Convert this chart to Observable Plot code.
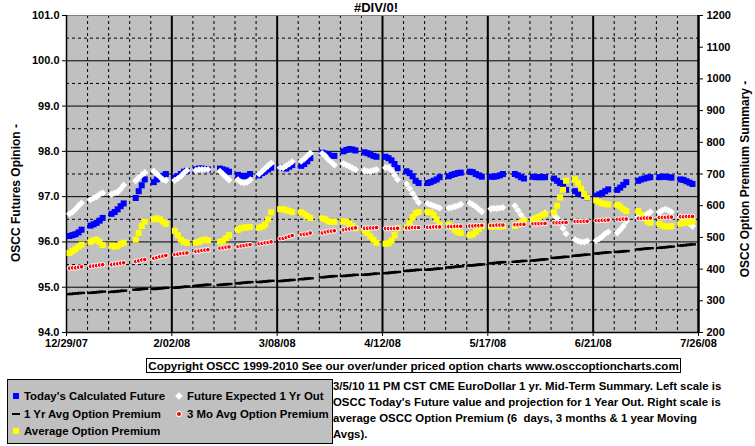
<!DOCTYPE html>
<html><head><meta charset="utf-8">
<script src="https://cdn.jsdelivr.net/npm/d3@7"></script>
<script src="https://cdn.jsdelivr.net/npm/@observablehq/plot@0.6"></script>
<style>
body{margin:0;background:#fff;font-family:"Liberation Sans",Arial,sans-serif;font-weight:bold;color:#000;}
#wrap{position:relative;width:755px;height:446px;overflow:hidden;}
#chart{position:absolute;left:0;top:0;}
.abs{position:absolute;white-space:nowrap;}
#title{left:376px;top:0px;transform:translateX(-50%);font-size:13px;}
.ytitle{font-size:12px;transform:translate(-50%,-50%) rotate(-90deg);}
#copy{left:146px;top:358px;width:533px;height:13px;border:1px solid #000;font-size:11.6px;line-height:13px;text-align:center;background:#fff;}
#legend{left:7px;top:379px;width:324px;height:63px;border:1px solid #000;background:#c0c0c0;font-size:11.4px;}
.li{position:absolute;white-space:nowrap;line-height:14px;}
.mk{position:absolute;}
#note{left:333px;top:378px;width:392px;font-size:11.4px;line-height:16px;white-space:normal;}
</style></head><body>
<div id="wrap">
  <div id="chart"></div>
  <div class="abs" id="title">#DIV/0!</div>
  <div class="abs ytitle" style="left:16px;top:193px;">OSCC Futures Opinion -</div>
  <div class="abs ytitle" style="left:745px;top:179px;">OSCC Option Premium Summary -</div>
  <div class="abs" id="copy">Copyright OSCC 1999-2010 See our over/under priced option charts www.osccoptioncharts.com</div>
  <div class="abs" id="legend"></div>
  <div class="abs" id="note">3/5/10 11 PM CST CME EuroDollar 1 yr. Mid-Term Summary. Left scale is OSCC Today's Future value and projection for 1 Year Out. Right scale is average OSCC Option Premium (6&nbsp; days, 3 months &amp; 1 year Moving Avgs).</div>
</div>
<script>
// ---- categories: Monday of each trading week (5 trading days each) ----
const weekMondays = ["2007-12-31","2008-01-07","2008-01-14","2008-01-21","2008-01-28","2008-02-04","2008-02-11","2008-02-18","2008-02-25","2008-03-03",
  "2008-03-10","2008-03-17","2008-03-24","2008-03-31","2008-04-07","2008-04-14","2008-04-21","2008-04-28","2008-05-05","2008-05-12",
  "2008-05-19","2008-05-26","2008-06-02","2008-06-09","2008-06-16","2008-06-23","2008-06-30","2008-07-07","2008-07-14","2008-07-21"];

// ---- Today's Calculated Future (left scale) ----
const todaysFuture = [
  96.13,96.15,96.17,96.21,96.27, 96.36,96.39,96.42,96.47,96.53, 96.62,96.66,96.72,96.79,96.85, null,96.97,97.12,97.25,97.38,
  97.32,97.38,97.42,97.46,97.50, 97.42,97.45,97.50,97.55,97.57, 97.60,97.62,97.62,97.61,97.60, null,97.62,97.60,97.58,97.55,
  97.48,97.46,97.45,97.46,97.50, 97.47,97.52,97.56,97.60,97.64, 97.64,97.63,97.62,97.66,97.70, 97.68,97.72,97.78,97.85,null,
  97.97,97.95,97.92,97.90,97.90, 98.00,98.03,98.05,98.04,98.02, 97.98,97.96,97.93,97.90,97.88, 97.88,97.85,97.80,97.72,97.63,
  97.56,97.52,97.45,97.35,97.30, 97.30,97.32,97.35,97.38,97.43, 97.45,97.48,97.50,97.52,97.53, 97.55,97.54,97.50,97.47,97.44,
  97.44,97.44,97.45,97.47,97.50, null,97.50,97.47,97.43,97.40, 97.44,97.43,97.43,97.43,97.43, 97.40,97.35,97.30,97.22,97.15,
  97.12,97.08,97.05,97.02,96.98, 97.02,97.05,97.08,97.12,97.16, 97.15,97.20,97.26,97.32,null, 97.35,97.38,97.40,97.42,97.43,
  97.43,97.44,97.44,97.43,97.42, 97.38,97.37,97.34,97.31,97.28];

// ---- Future Expected 1 Yr Out (left scale) ----
const futureExpected = [
  96.62,96.66,96.72,96.80,96.86, 96.93,96.97,97.00,97.05,97.08, 97.05,97.08,97.10,97.17,97.25, null,97.35,97.42,97.48,97.53,
  97.56,97.50,97.44,97.38,97.36, 97.36,97.40,97.45,97.52,97.58, 97.58,97.60,97.60,97.60,97.60, null,97.56,97.50,97.43,97.37,
  97.37,97.32,97.30,97.32,97.37, 97.50,97.56,97.62,97.68,97.74, 97.64,97.64,97.68,97.72,97.77, 97.78,97.83,97.90,97.96,null,
  97.95,97.90,97.82,97.76,97.70, 97.73,97.70,97.67,97.63,97.60, 97.58,97.56,97.56,97.58,97.60, 97.64,97.64,97.58,97.48,97.38,
  97.28,97.18,97.07,96.97,96.87, 96.85,96.82,96.80,96.77,96.75, 96.75,96.76,96.78,96.80,96.83, 96.86,96.82,96.78,96.72,96.67,
  96.73,96.74,96.74,96.75,96.76, null,96.80,96.70,96.60,96.50, 96.50,96.52,96.55,96.60,96.64, 96.60,96.53,96.42,96.30,96.18,
  96.05,96.02,96.00,96.00,96.02, 96.03,96.07,96.12,96.18,96.22, 96.20,96.27,96.35,96.45,null, 96.55,96.55,96.58,96.62,96.66,
  96.65,96.70,96.72,96.70,96.66, 96.55,96.50,96.45,96.40,96.35];

// ---- Average Option Premium (right scale) ----
const avgPremium = [
  451,457,463,471,477, 486,491,493,486,476, 474,471,473,479,483, null,493,514,536,550,
  557,560,557,550,543, 521,507,493,486,483, 483,486,491,493,491, null,486,489,497,507,
  524,529,531,531,533, 531,534,540,557,579, 589,589,586,583,580, 579,574,567,561,null,
  560,557,551,549,549, 551,549,543,536,529, 521,514,503,493,483, 480,481,490,507,529,
  531,546,564,576,580, 580,579,571,557,540, 540,533,524,517,514, 507,510,517,526,536,
  534,534,534,534,536, null,536,540,546,553, 554,560,564,569,574, 579,600,626,650,679,
  683,671,654,637,626, 617,611,607,606,604, 603,597,589,583,null, 583,571,560,550,546,
  543,537,534,534,536, 543,546,547,549,550];

// ---- 3 Mo Avg Option Premium (right scale) ----
const premium3Mo = [
  403,404,404,406,407, 409,410,411,413,414, 414,416,417,419,420, null,424,426,429,430,
  434,436,439,441,443, 446,447,449,450,451, 456,457,459,460,461, null,466,467,469,470,
  471,473,474,476,477, 480,481,483,484,486, 496,497,500,503,506, 509,510,511,514,null,
  514,517,519,520,521, 524,526,527,529,530, 529,529,530,530,531, 528,528,528,528,529,
  530,530,531,531,531, 532,532,533,533,533, 534,534,535,535,535, 536,536,537,537,538,
  538,538,539,539,539, null,540,540,541,541, 543,543,543,544,544, 546,546,546,547,547,
  550,550,550,551,551, 553,553,554,554,555, 557,557,558,558,null, 560,560,561,561,561,
  563,563,563,564,564, 565,565,566,566,566];

// ---- 1 Yr Avg Option Premium (right scale) ----
const premium1Yr = [
  321,322,323,324,325, 325,326,327,328,329, 328,329,330,331,332, null,335,336,337,338,
  337,338,339,340,341, 341,342,343,344,345, 347,348,349,350,351, null,350,351,352,353,
  355,356,357,358,359, 359,360,361,362,363, 362,363,364,365,366, 368,369,370,371,null,
  374,375,376,377,378, 378,379,380,381,382, 382,383,384,385,386, 387,388,389,390,391,
  394,395,396,397,398, 398,399,400,401,402, 405,406,407,408,409, 411,412,413,414,415,
  418,419,420,421,422, null,423,424,425,426, 427,428,429,430,431, 435,436,437,438,439,
  442,443,444,445,446, 449,450,451,452,453, 454,455,456,457,null, 462,463,464,465,466,
  467,468,469,470,471, 474,475,476,477,478];

// ---- axis ticks ----
const leftTicks = [94,95,96,97,98,99,100,101];
const rightTicks = [200,300,400,500,600,700,800,900,1000,1100,1200];
const xTickLabels = ["12/29/07","2/02/08","3/08/08","4/12/08","5/17/08","6/21/08","7/26/08"];

// ---- build table ----
const parse = d3.utcParse("%Y-%m-%d");
const parseLbl = d3.utcParse("%m/%d/%y");
const xTicks = xTickLabels.map(parseLbl);
const rows = [];
weekMondays.forEach((m, w) => {
  for (let k = 0; k < 5; k++) {
    const i = w * 5 + k;
    // the reference places each trading day one day left of its calendar date
    const date = d3.utcDay.offset(parse(m), k - 1);
    rows.push({date, blue: todaysFuture[i], white: futureExpected[i], yellow: avgPremium[i], red: premium3Mo[i], black: premium1Yr[i]});
  }
});
const toLeft = p => p == null ? null : 94 + (p - 200) * 7 / 1000;
const satLines = d3.utcSaturday.range(d3.utcDay.offset(xTicks[0], 1), xTicks[6]);
const majorX = xTicks.slice(1, -1).map(d => +d);
const minorX = satLines.filter(d => !majorX.includes(+d));

const dash = {draw(ctx) { ctx.moveTo(-3.5,-1.2); ctx.lineTo(3.5,-1.2); ctx.lineTo(3.5,1.2); ctx.lineTo(-3.5,1.2); ctx.closePath(); }};

const fmtX = d => xTickLabels[xTicks.findIndex(t => +t === +d)];

const chart = Plot.plot({
  width: 755, height: 352,
  marginLeft: 66, marginRight: 57, marginTop: 15, marginBottom: 20,
  style: {fontFamily: "Liberation Sans, Arial, sans-serif", fontSize: "11px", fontWeight: "bold", background: "transparent", overflow: "visible"},
  x: {type: "utc", domain: [xTicks[0], xTicks[6]], axis: null},
  y: {domain: [94, 101], axis: null},
  marks: [
    Plot.frame({fill: "#c0c0c0", stroke: null}),
    Plot.ruleY([94.5,95.5,96.5,97.5,98.5,99.5,100.5], {stroke: "#000", strokeDasharray: "3,3", strokeWidth: 1}),
    Plot.ruleY([95,96,97,98,99,100], {stroke: "#000", strokeWidth: 1}),
    Plot.ruleX(minorX, {stroke: "#000", strokeDasharray: "3,3", strokeWidth: 1}),
    Plot.ruleX(majorX, {stroke: "#000", strokeWidth: 2}),
    Plot.ruleY([101], {stroke: "#808080", strokeWidth: 1}),
    Plot.ruleX([xTicks[0]], {stroke: "#000", strokeWidth: 1.5}),
    Plot.ruleX([xTicks[6]], {stroke: "#000", strokeWidth: 2.5}),
    Plot.ruleY([94], {stroke: "#000", strokeWidth: 1.5}),
    Plot.dot(rows, {x: "date", y: "blue", symbol: "square", r: 3.4, fill: "#0000ff", stroke: null}),
    Plot.dot(rows, {x: "date", y: "white", symbol: "diamond2", r: 3.2, fill: "#ffffff", stroke: null}),
    Plot.dot(rows, {x: "date", y: d => toLeft(d.yellow), symbol: "square", r: 3.4, fill: "#ffff00", stroke: null}),
    Plot.dot(rows, {x: "date", y: d => toLeft(d.black), symbol: dash, r: 3, fill: "#000", stroke: null}),
    Plot.dot(rows, {x: "date", y: d => toLeft(d.red), r: 2.3, fill: "#ff0000", stroke: "#fff", strokeWidth: 1}),
    Plot.axisY(leftTicks, {anchor: "left", tickSize: 4, tickPadding: 3, tickFormat: d => d.toFixed(1), label: null}),
    Plot.axisY(rightTicks.map(toLeft), {anchor: "right", tickSize: 4, tickPadding: 4, tickFormat: d => String(Math.round((d - 94) * 1000 / 7 + 200)), label: null}),
    Plot.axisX(xTicks, {anchor: "bottom", tickSize: 4, tickPadding: 3, tickFormat: fmtX, label: null})
  ]
});
document.getElementById("chart").appendChild(chart);

// ---- legend ----
const legendItems = [
  {label: "Today's Calculated Future", col: 0, row: 0, kind: "sq", color: "#0000ff"},
  {label: "Future Expected 1 Yr Out", col: 1, row: 0, kind: "dia", color: "#ffffff"},
  {label: "1 Yr Avg Option Premium", col: 0, row: 1, kind: "dash", color: "#000"},
  {label: "3 Mo Avg Option Premium", col: 1, row: 1, kind: "dot", color: "#ff0000"},
  {label: "Average Option Premium", col: 0, row: 2, kind: "sq", color: "#ffff00"}
];
const lg = document.getElementById("legend");
legendItems.forEach(it => {
  const x0 = it.col ? 165 : 2, y0 = 10 + it.row * 17.5;
  const mk = document.createElement("div"); mk.className = "mk";
  if (it.kind === "sq") Object.assign(mk.style, {left: (x0+3)+"px", top: (y0+3)+"px", width: "6px", height: "6px", background: it.color});
  if (it.kind === "dia") Object.assign(mk.style, {left: (x0+3)+"px", top: (y0+3)+"px", width: "6px", height: "6px", background: it.color, transform: "rotate(45deg) scale(0.9)"});
  if (it.kind === "dash") Object.assign(mk.style, {left: (x0+2)+"px", top: (y0+5)+"px", width: "8px", height: "2px", background: it.color});
  if (it.kind === "dot") Object.assign(mk.style, {left: (x0+4)+"px", top: (y0+4)+"px", width: "4px", height: "4px", borderRadius: "50%", background: it.color, boxShadow: "0 0 0 1px #fff"});
  lg.appendChild(mk);
  const t = document.createElement("div"); t.className = "li";
  t.style.left = (x0 + 14) + "px"; t.style.top = (y0 - 1) + "px"; t.textContent = it.label;
  lg.appendChild(t);
});
</script>
</body></html>
